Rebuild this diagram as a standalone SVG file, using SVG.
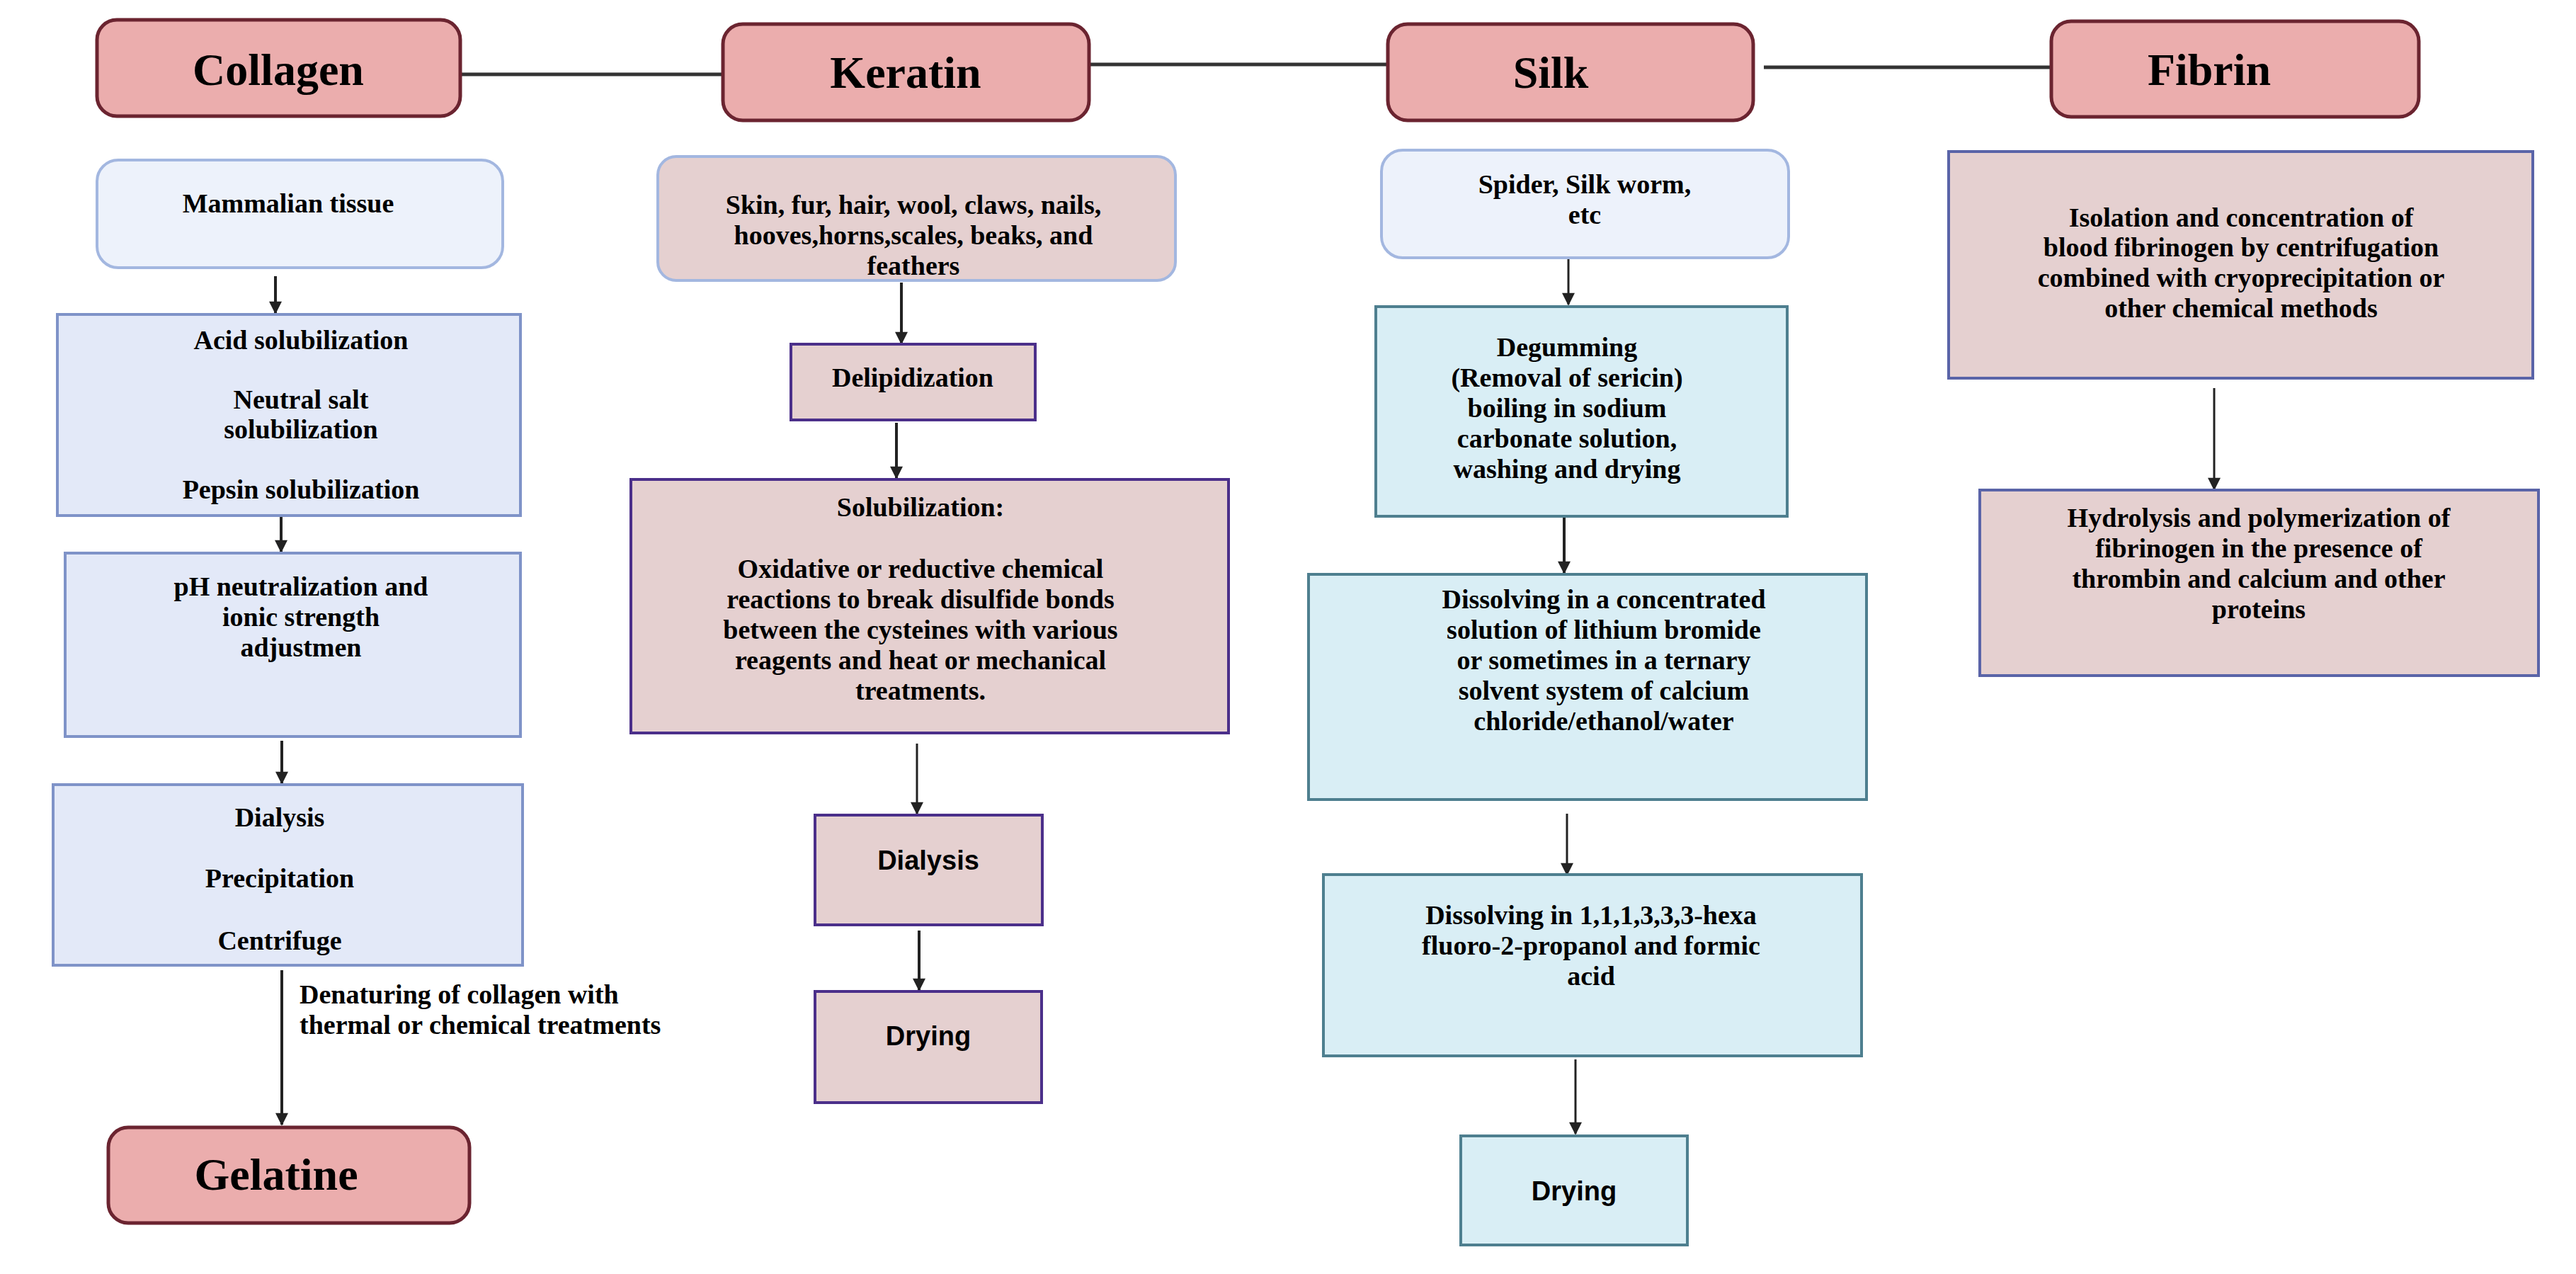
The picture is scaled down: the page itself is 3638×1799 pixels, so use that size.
<svg xmlns="http://www.w3.org/2000/svg" width="3638" height="1799" viewBox="0 0 3638 1799">
<defs>
<marker id="ah" viewBox="0 0 10 10" refX="9" refY="5" markerWidth="7" markerHeight="7" markerUnits="userSpaceOnUse" orient="auto"><path d="M0,0 L10,5 L0,10 z" fill="#222"/></marker>
<marker id="a" viewBox="0 0 10 10" refX="9" refY="5" markerWidth="22" markerHeight="18" markerUnits="userSpaceOnUse" orient="auto"><path d="M0,0 L10,5 L0,10 z" fill="#222"/></marker>
<style>
.hd{fill:#ebadad;stroke:#6b2430;stroke-width:5}
.ht{font-family:"Liberation Serif",serif;font-weight:bold;font-size:64px;text-anchor:middle;fill:#000}
.src{fill:#edf2fb;stroke:#a3b7e0;stroke-width:4}
.srck{fill:#e5d0d0;stroke:#a3b7e0;stroke-width:4}
.bl{fill:#e3e9f8;stroke:#7f93c8;stroke-width:4}
.pk{fill:#e5d0d0;stroke:#4b2f8a;stroke-width:4}
.pkb{fill:#e5d0d0;stroke:#5a64a8;stroke-width:4}
.cy{fill:#d9eef5;stroke:#4e7f8f;stroke-width:4}
.t{font-family:"Liberation Serif",serif;font-weight:bold;font-size:38px;text-anchor:middle;fill:#000}
.s{font-family:"Liberation Sans",sans-serif;font-weight:bold;font-size:38px;text-anchor:middle;fill:#000}
.ln{stroke:#333;stroke-width:5;fill:none}
.ar{stroke:#222;stroke-width:4;fill:none;marker-end:url(#a)}
.arn{stroke:#222;stroke-width:3;fill:none;marker-end:url(#a)}
</style>
</defs>
<g id="connectors">
<line class="ln" x1="650" y1="105" x2="1021" y2="105"/>
<line class="ln" x1="1538" y1="91" x2="1960" y2="91"/>
<line class="ln" x1="2491" y1="95" x2="2897" y2="95"/>
<line class="ar" x1="389" y1="390" x2="389" y2="442"/>
<line class="ar" x1="397" y1="729" x2="397" y2="779"/>
<line class="ar" x1="398" y1="1046" x2="398" y2="1106"/>
<line class="ar" x1="398" y1="1370" x2="398" y2="1588"/>
<line class="ar" x1="1273" y1="399" x2="1273" y2="485"/>
<line class="ar" x1="1266" y1="597" x2="1266" y2="675"/>
<line class="arn" x1="1295" y1="1050" x2="1295" y2="1149"/>
<line class="ar" x1="1298" y1="1314" x2="1298" y2="1398"/>
<line class="arn" x1="2215" y1="364" x2="2215" y2="430"/>
<line class="ar" x1="2209" y1="729" x2="2209" y2="809"/>
<line class="arn" x1="2213" y1="1149" x2="2213" y2="1235"/>
<line class="arn" x1="2225" y1="1496" x2="2225" y2="1601"/>
<line class="arn" x1="3127" y1="548" x2="3127" y2="691"/>
</g>
<g id="collagen"><rect class="hd" x="137" y="28" width="513" height="136" rx="28"/><text class="ht" x="393" y="120">Collagen</text></g>
<g id="keratin"><rect class="hd" x="1021" y="34" width="517" height="136" rx="28"/><text class="ht" x="1279" y="124">Keratin</text></g>
<g id="silk"><rect class="hd" x="1960" y="34" width="516" height="136" rx="28"/><text class="ht" x="2190" y="124">Silk</text></g>
<g id="fibrin"><rect class="hd" x="2897" y="30" width="519" height="135" rx="28"/><text class="ht" x="3120" y="120">Fibrin</text></g>
<g id="mammalian"><rect class="src" x="137" y="226" width="573" height="152" rx="30"/><text class="t" x="407" y="300">Mammalian tissue</text></g>
<g id="acid"><rect class="bl" x="81" y="444" width="654" height="284"/>
<text class="t" x="425" y="493">Acid solubilization</text><text class="t" x="425" y="577">Neutral salt</text><text class="t" x="425" y="619">solubilization</text><text class="t" x="425" y="704">Pepsin solubilization</text></g>
<g id="ph"><rect class="bl" x="92" y="781" width="643" height="259"/>
<text class="t" x="425" y="841">pH neutralization and</text><text class="t" x="425" y="884">ionic strength</text><text class="t" x="425" y="927">adjustmen</text></g>
<g id="dialysis-c"><rect class="bl" x="75" y="1108" width="663" height="255"/>
<text class="t" x="395" y="1167">Dialysis</text><text class="t" x="395" y="1253">Precipitation</text><text class="t" x="395" y="1341">Centrifuge</text></g>
<g id="denature-label"><text class="t" x="423" y="1417" style="text-anchor:start">Denaturing of collagen with</text><text class="t" x="423" y="1460" style="text-anchor:start">thermal or chemical treatments</text></g>
<g id="gelatine"><rect class="hd" x="153" y="1592" width="510" height="135" rx="28"/><text class="ht" x="390" y="1680">Gelatine</text></g>
<g id="keratin-src"><rect class="srck" x="929" y="221" width="731" height="175" rx="26"/>
<text class="t" x="1290" y="302">Skin, fur, hair, wool, claws, nails,</text><text class="t" x="1290" y="345">hooves,horns,scales, beaks, and</text><text class="t" x="1290" y="388">feathers</text></g>
<g id="delip"><rect class="pk" x="1117" y="486" width="345" height="107"/><text class="t" x="1289" y="546">Delipidization</text></g>
<g id="solub"><rect class="pk" x="891" y="677" width="844" height="358"/>
<text class="t" x="1300" y="729">Solubilization:</text>
<text class="t" x="1300" y="816">Oxidative  or reductive  chemical</text>
<text class="t" x="1300" y="859">reactions to break disulfide bonds</text>
<text class="t" x="1300" y="902">between the cysteines with various</text>
<text class="t" x="1300" y="945">reagents and heat or mechanical</text>
<text class="t" x="1300" y="988">treatments.</text></g>
<g id="dialysis-k"><rect class="pk" x="1151" y="1151" width="321" height="155"/><text class="s" x="1311" y="1228">Dialysis</text></g>
<g id="drying-k"><rect class="pk" x="1151" y="1400" width="320" height="157"/><text class="s" x="1311" y="1476">Drying</text></g>
<g id="spider"><rect class="src" x="1951" y="212" width="575" height="152" rx="30"/>
<text class="t" x="2238" y="273">Spider, Silk worm,</text><text class="t" x="2238" y="316">etc</text></g>
<g id="degum"><rect class="cy" x="1943" y="433" width="581" height="296"/>
<text class="t" x="2213" y="503">Degumming</text><text class="t" x="2213" y="546">(Removal of sericin)</text><text class="t" x="2213" y="589">boiling in sodium</text><text class="t" x="2213" y="632">carbonate solution,</text><text class="t" x="2213" y="675">washing and drying</text></g>
<g id="dissolve-li"><rect class="cy" x="1848" y="811" width="788" height="318"/>
<text class="t" x="2265" y="859">Dissolving in a concentrated</text><text class="t" x="2265" y="902">solution of lithium bromide</text><text class="t" x="2265" y="945">or sometimes in a ternary</text><text class="t" x="2265" y="988">solvent system of calcium</text><text class="t" x="2265" y="1031">chloride/ethanol/water</text></g>
<g id="dissolve-hfip"><rect class="cy" x="1869" y="1235" width="760" height="256"/>
<text class="t" x="2247" y="1305">Dissolving  in 1,1,1,3,3,3-hexa</text><text class="t" x="2247" y="1348">fluoro-2-propanol and formic</text><text class="t" x="2247" y="1391">acid</text></g>
<g id="drying-s"><rect class="cy" x="2063" y="1604" width="320" height="154"/><text class="s" x="2223" y="1695">Drying</text></g>
<g id="fibrin-iso"><rect class="pkb" x="2752" y="214" width="825" height="320"/>
<text class="t" x="3165" y="320">Isolation and concentration of</text><text class="t" x="3165" y="362">blood fibrinogen by centrifugation</text><text class="t" x="3165" y="405">combined with cryoprecipitation or</text><text class="t" x="3165" y="448">other chemical methods</text></g>
<g id="hydrolysis"><rect class="pkb" x="2796" y="692" width="789" height="262"/>
<text class="t" x="3190" y="744">Hydrolysis  and polymerization of</text><text class="t" x="3190" y="787">fibrinogen in the presence of</text><text class="t" x="3190" y="830">thrombin and   calcium  and other</text><text class="t" x="3190" y="873">proteins</text></g>
</svg>
